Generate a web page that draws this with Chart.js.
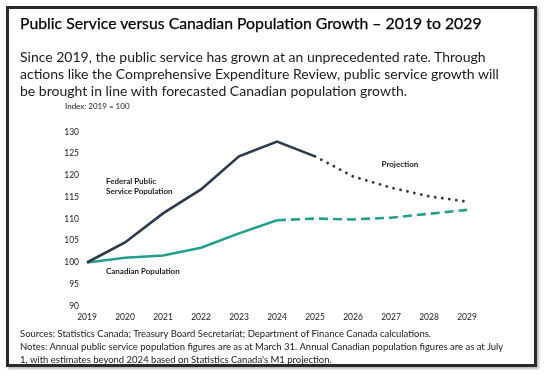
<!DOCTYPE html>
<html>
<head>
<meta charset="utf-8">
<script src="https://cdn.jsdelivr.net/npm/chart.js@4.4.1/dist/chart.umd.min.js"></script>
<style>
  html, body { margin: 0; padding: 0; background: #fff; }
  body { width: 547px; height: 376px; position: relative; overflow: hidden; font-family: Lato, "Open Sans", sans-serif; color: #1a1a1a; }
  #frame { position: absolute; left: 6px; top: 6px; width: 525px; height: 355px; border: 3px solid #2a2a2a; box-shadow: 2px 2px 2px #bbb; }
  #chartWrap { position: absolute; left: 0; top: 0; width: 547px; height: 376px; }
  .t { position: absolute; white-space: nowrap; }
  #title { left: 20px; top: 13px; font-size: 15.8px; line-height: 19px; color: #000; -webkit-text-stroke: 0.25px #000; }
  #sub { left: 20px; top: 48px; font-size: 14px; line-height: 17px; }
  #index { left: 65px; top: 101px; font-size: 8px; }
  #src { left: 20px; top: 327px; font-size: 9.5px; line-height: 13.2px; }
</style>
</head>
<body>
<div id="frame"></div>
<div id="chartWrap"><canvas id="c" width="547" height="376"></canvas></div>
<div class="t" id="title">Public Service versus Canadian Population Growth – 2019 to 2029</div>
<div class="t" id="sub">Since 2019, the public service has grown at an unprecedented rate. Through<br>actions like the Comprehensive Expenditure Review, public service growth will<br>be brought in line with forecasted Canadian population growth.</div>
<div class="t" id="index">Index: 2019 = 100</div>
<div class="t" id="src">Sources: Statistics Canada; Treasury Board Secretariat; Department of Finance Canada calculations.<br>Notes: Annual public service population figures are as at March 31. Annual Canadian population figures are as at July<br>1, with estimates beyond 2024 based on Statistics Canada's M1 projection.</div>
<script>
const years = ['2019','2020','2021','2022','2023','2024','2025','2026','2027','2028','2029'];
const publicService = [100, 104.6, 111.3, 116.8, 124.4, 127.8, 124.4, 119.8, 117.2, 115.2, 114.0];
const canadianPop = [100, 101.1, 101.6, 103.4, 106.7, 109.7, 110.1, 109.9, 110.3, 111.2, 112.1];
const yTicks = [90, 95, 100, 105, 110, 115, 120, 125, 130];
const publicProjectionStart = 6; // index of 2025
const popProjectionStart = 5;    // index of 2024

const NAVY = '#2b3a4a';
const TEAL = '#22a08f';

const labelPlugin = {
  id: 'labels',
  afterDatasetsDraw(chart) {
    const { ctx, scales: { x, y } } = chart;
    ctx.save();
    ctx.fillStyle = '#1a1a1a';
    ctx.font = 'bold 8px Lato, sans-serif';
    ctx.textBaseline = 'middle';
    ctx.textAlign = 'left';
    ctx.fillText('Federal Public', x.getPixelForValue(0.5), y.getPixelForValue(118.7));
    ctx.fillText('Service Population', x.getPixelForValue(0.5), y.getPixelForValue(116.4));
    ctx.fillText('Canadian Population', x.getPixelForValue(0.5), y.getPixelForValue(97.9));
    ctx.fillText('Projection', x.getPixelForValue(7.75), y.getPixelForValue(122.6));
    ctx.restore();
  }
};

new Chart(document.getElementById('c'), {
  type: 'line',
  data: {
    labels: years,
    datasets: [
      {
        data: publicService,
        borderColor: NAVY,
        borderWidth: 2.6,
        pointRadius: 0,
        tension: 0,
        segment: {
          borderDash: ctx => ctx.p0DataIndex >= publicProjectionStart ? [0.1, 7] : undefined,
          borderCapStyle: ctx => ctx.p0DataIndex >= publicProjectionStart ? 'round' : 'butt',
          borderWidth: ctx => ctx.p0DataIndex >= publicProjectionStart ? 2.8 : 2.6
        }
      },
      {
        data: canadianPop,
        borderColor: TEAL,
        borderWidth: 2.6,
        pointRadius: 0,
        tension: 0,
        segment: {
          borderDash: ctx => ctx.p0DataIndex >= popProjectionStart ? [9, 5] : undefined
        }
      }
    ]
  },
  options: {
    responsive: false,
    animation: false,
    events: [],
    clip: false,
    layout: { padding: { left: 57, right: 80, top: 132, bottom: 50 } },
    plugins: { legend: { display: false }, tooltip: { enabled: false }, title: { display: false } },
    scales: {
      x: {
        type: 'category',
        grid: { display: false, drawTicks: false },
        border: { display: false },
        ticks: { color: '#1a1a1a', font: { family: 'Lato', size: 8.5 }, padding: 6, maxRotation: 0, autoSkip: false },
        afterFit(s) { s.height = 20; }
      },
      y: {
        min: 90, max: 130,
        afterBuildTicks(s) { s.ticks = yTicks.map(v => ({ value: v })); },
        grid: { display: false, drawTicks: false },
        border: { display: false },
        ticks: { color: '#1a1a1a', font: { family: 'Lato', size: 8.5 }, padding: 8 },
        afterFit(s) { s.width = 30; }
      }
    }
  },
  plugins: [labelPlugin]
});
</script>
</body>
</html>
